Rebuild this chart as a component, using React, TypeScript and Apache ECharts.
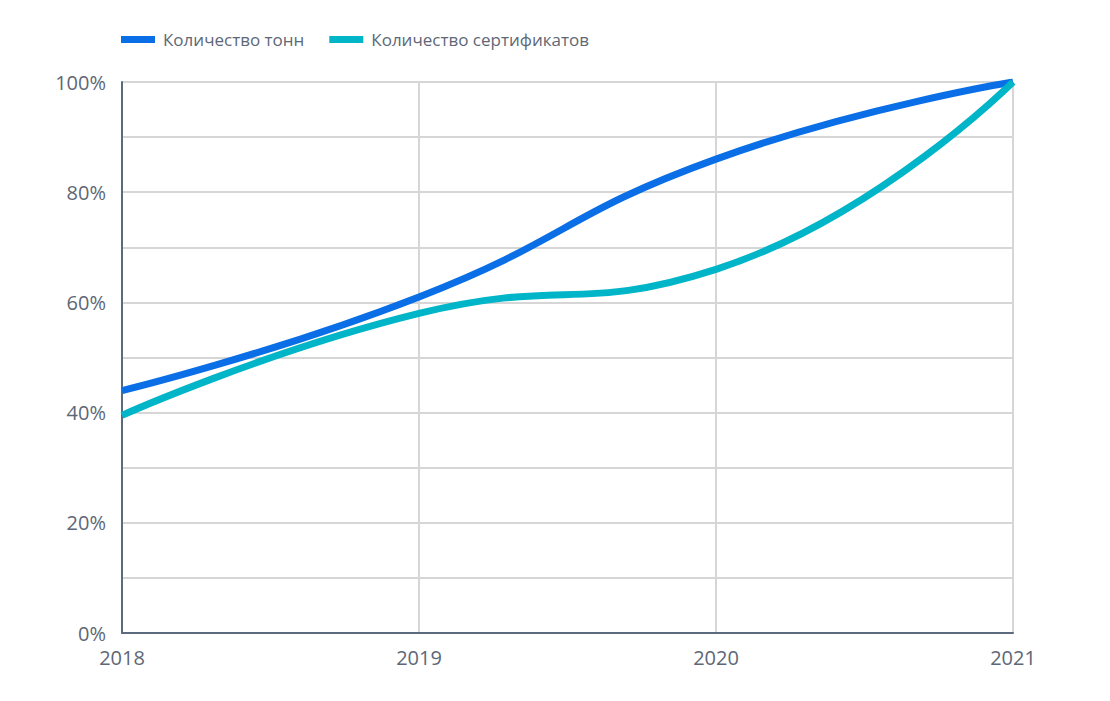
import React, { useEffect, useRef } from "react";
import * as echarts from "echarts";

const years = ["2018", "2019", "2020", "2021"];
const tonnes = [44, 61, 86, 100];
const certificates = [39.5, 58, 66, 100];
const seriesNames = ["Количество тонн", "Количество сертификатов"];

export default function App() {
  const ref = useRef<HTMLDivElement>(null);
  useEffect(() => {
    document.body.style.margin = "0";
    const chart = echarts.init(ref.current!, null, { renderer: "svg" });
    const labelColor = "#5d6776";
    chart.setOption({
      animation: false,
      textStyle: { fontFamily: "Open Sans" },
      legend: {
        left: 116,
        top: 26,
        itemWidth: 34,
        itemHeight: 7,
        itemGap: 25,
        icon: "rect",
        textStyle: { fontSize: 17, color: labelColor, fontFamily: "Open Sans", padding: [0, 0, 0, 3] },
        data: seriesNames,
      },
      grid: { left: 122, right: 97, top: 82, bottom: 68, containLabel: false },
      xAxis: {
        type: "category",
        data: years,
        boundaryGap: false,
        axisLine: { lineStyle: { color: "#5b6b7b", width: 2 } },
        axisTick: { show: false },
        axisLabel: { color: labelColor, fontSize: 20, margin: 14 },
        splitLine: { show: true, lineStyle: { color: "#d6d6d6", width: 2 } },
      },
      yAxis: {
        type: "value",
        min: 0,
        max: 100,
        interval: 10,
        axisLine: { show: true, lineStyle: { color: "#5b6b7b", width: 2 } },
        axisTick: { show: false },
        axisLabel: {
          color: labelColor,
          fontSize: 20,
          margin: 16,
          formatter: (v: number) => (v % 20 === 0 ? v + "%" : ""),
        },
        splitLine: { lineStyle: { color: "#d6d6d6", width: 2 } },
      },
      series: [
        {
          name: seriesNames[0],
          type: "line",
          data: tonnes,
          smooth: true,
          symbol: "none",
          lineStyle: { width: 7, color: "#0a6ee6" },
          itemStyle: { color: "#0a6ee6" },
        },
        {
          name: seriesNames[1],
          type: "line",
          data: certificates,
          smooth: true,
          symbol: "none",
          lineStyle: { width: 7, color: "#00b5c8" },
          itemStyle: { color: "#00b5c8" },
        },
      ],
    });
    return () => chart.dispose();
  }, []);
  return <div ref={ref} style={{ width: 1110, height: 701 }} />;
}
